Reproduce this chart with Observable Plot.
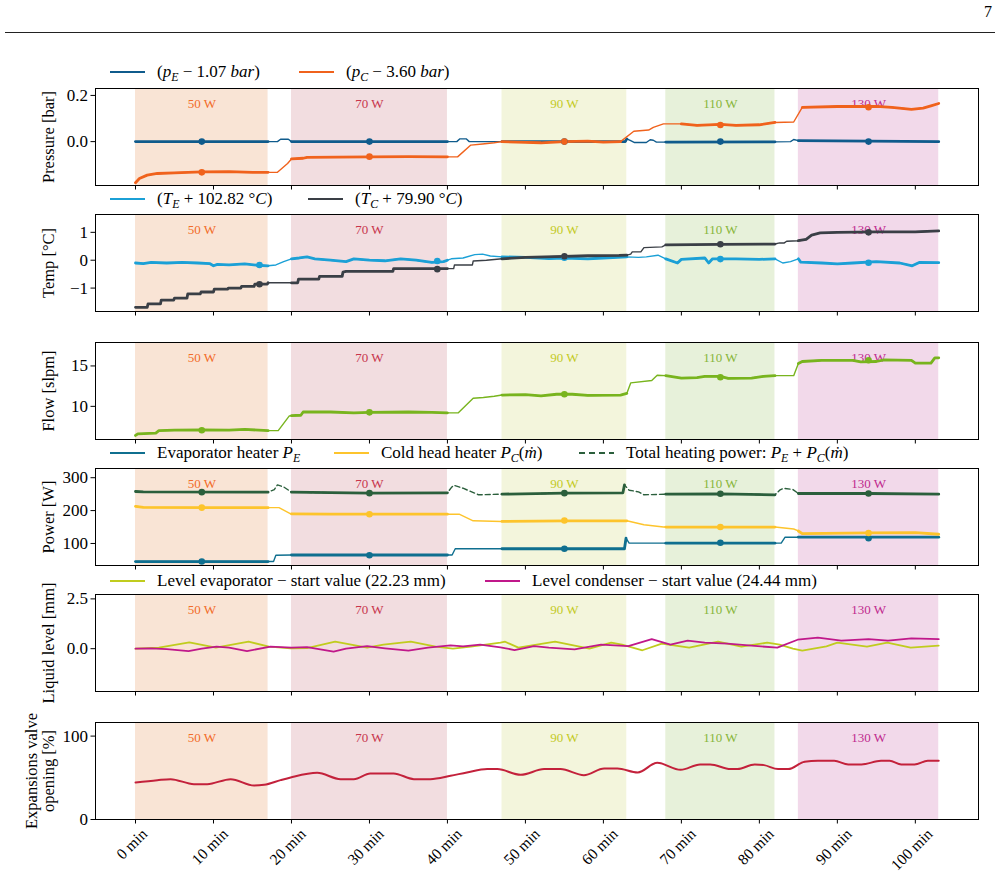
<!DOCTYPE html>
<html><head><meta charset="utf-8">
<script src="https://cdn.jsdelivr.net/npm/d3@7"></script>
<script src="https://cdn.jsdelivr.net/npm/@observablehq/plot@0.6"></script>
<style>
body{margin:0;background:#fff;}
#page{position:relative;width:999px;height:882px;font-family:"Liberation Serif","Times New Roman",serif;color:#000;overflow:hidden;background:#fff;}
.ylab{position:absolute;transform:translate(-50%,-50%) rotate(-90deg);white-space:nowrap;font-size:16.5px;line-height:17px;text-align:center;}
.legtxt{position:absolute;font-size:17px;white-space:nowrap;transform:translateY(-50%);line-height:20px;}
.legsw{position:absolute;}
.sub{font-size:0.7em;vertical-align:-0.3em;line-height:0;font-style:italic;}
i{font-style:italic;}
</style></head><body><div id="page"></div>
<script>
// ---------------- DATA ----------------
const xDomain = [-5.13, 108.1];
const minutes = [0,10,20,30,40,50,60,70,80,90,100];
const xTickLabels = ["0 min","10 min","20 min","30 min","40 min","50 min","60 min","70 min","80 min","90 min","100 min"];

const bandLabels = ["50 W","70 W","90 W","110 W","130 W"];
const bandStart = [0,20,47,68,85];
const bandEnd   = [17,40,63,82,103];

// Pressure [bar] (offset values)
const pE = [[0,0],[17,0],[18.2,0],[18.6,0.01],[19.6,0.01],[20,0],[40,0],[41.2,0],[41.6,0.012],[42.4,0.012],[42.8,0],[47,0],[62.8,0],[63,0.012],[63.5,0.004],[64,-0.004],[65.5,-0.004],[66,0.008],[66.4,0.006],[66.8,-0.002],[68,-0.002],[82,-0.001],[84,0],[84.4,0.009],[85,0.004],[103,0]];
const pC = [[0,-0.178],[0.5,-0.16],[1.5,-0.145],[2.8,-0.138],[5,-0.135],[8.5,-0.131],[12,-0.13],[15,-0.133],[17,-0.133],[18.2,-0.133],[19.5,-0.095],[20,-0.075],[21.5,-0.072],[22,-0.068],[30,-0.066],[35,-0.065],[40,-0.066],[41.3,-0.066],[43,-0.015],[44.5,-0.01],[46,-0.005],[47,0],[50,-0.003],[52,-0.005],[55,0],[58,0.002],[60,-0.002],[62.2,0],[63.9,0.045],[65.8,0.05],[66.4,0.062],[67.7,0.077],[70,0.077],[72,0.07],[75,0.075],[77,0.07],[80,0.073],[82,0.083],[84.4,0.085],[85.5,0.148],[90,0.152],[95,0.153],[97,0.148],[99.5,0.14],[101,0.145],[102,0.155],[103,0.165]];
const pMarkT = [8.5,30,55,75,94];
const pEMean = [0,0,0,0,0];
const pCMean = [-0.133,-0.065,0,0.072,0.149];

// Temperature [°C] (offset values)
const tE = [[0,-0.1],[1,-0.12],[2,-0.08],[4,-0.1],[6,-0.08],[8,-0.1],[9.5,-0.12],[10,-0.2],[10.5,-0.15],[12,-0.17],[14,-0.13],[15.5,-0.18],[17,-0.2],[18,-0.17],[19,-0.05],[20,0.05],[21,0.08],[22,0.12],[23,0.05],[25,0],[27,-0.05],[28,0.05],[30,0],[32,-0.02],[34,0.05],[36,0],[38,-0.08],[39.5,-0.05],[40,0],[40.5,0.05],[42,0.08],[43.5,0.2],[44.5,0.22],[45.5,0.15],[47,0.12],[50,0.1],[53,0.06],[55,0.08],[58,0.05],[60,0.08],[63,0.12],[64.5,0.1],[65.5,0.12],[67,0.18],[68,0.05],[69.5,-0.1],[70,0.03],[73,0.08],[73.5,-0.1],[74,0.05],[77,0.05],[80,0.03],[82,0.05],[83,-0.1],[84,-0.05],[85,0.05],[85.3,-0.07],[88,-0.1],[90,-0.13],[92,-0.1],[95,-0.05],[98,-0.1],[99.6,-0.2],[100.5,-0.08],[103,-0.09]];
const tC = [[0,-1.69],[1.5,-1.69],[1.6,-1.57],[3.2,-1.57],[3.3,-1.43],[4.9,-1.43],[5,-1.36],[6.6,-1.36],[6.7,-1.21],[8.3,-1.21],[8.4,-1.14],[10,-1.14],[10.1,-1.04],[11.8,-1.04],[11.9,-1.0],[13.5,-1.0],[13.6,-0.94],[15.2,-0.94],[15.3,-0.86],[16.9,-0.86],[17,-0.81],[20,-0.81],[20.8,-0.81],[20.9,-0.68],[23.5,-0.68],[23.6,-0.58],[26.5,-0.58],[26.6,-0.43],[27,-0.4],[33,-0.4],[33.1,-0.3],[40,-0.3],[40.8,-0.3],[40.9,-0.17],[43.2,-0.17],[43.3,-0.03],[45,0],[47,0.05],[50,0.1],[55,0.14],[58,0.16],[62,0.17],[63,0.18],[63.5,0.22],[63.7,0.3],[64.8,0.3],[65.2,0.45],[67.5,0.48],[68,0.55],[75,0.57],[82,0.58],[82.6,0.62],[83.2,0.62],[83.5,0.68],[85,0.7],[86,0.75],[86.7,0.9],[87.8,0.98],[90,1.0],[95,1.02],[100,1.02],[103,1.05]];
const tMarkT = [15.9,38.7,55,75,94];
const tEMean = [-0.17,-0.03,0.09,0.04,-0.09];
const tCMean = [-0.86,-0.32,0.14,0.57,1.0];

// Flow [slpm]
const flow = [[0,6.4],[0.3,6.6],[2.6,6.7],[3,7.0],[5,7.05],[8.5,7.1],[12,7.05],[14,7.15],[17,7.0],[18.3,7.0],[19.7,8.8],[20,8.85],[21.2,8.9],[21.5,9.3],[25,9.3],[28,9.2],[30,9.25],[35,9.3],[38,9.25],[40,9.2],[41.4,9.2],[43.3,11.0],[44.6,11.1],[46,11.25],[47,11.4],[50,11.45],[52,11.3],[54,11.5],[56,11.5],[58,11.35],[62.2,11.4],[63,11.6],[63.5,12.9],[66.2,13.2],[66.9,13.85],[68,13.8],[70,13.5],[72,13.55],[73,13.7],[75,13.7],[76,13.45],[79,13.5],[80.5,13.7],[82,13.8],[84.4,13.8],[85,15.3],[85.5,15.55],[88,15.7],[92,15.7],[93,15.5],[95,15.55],[96,15.75],[99.5,15.7],[100,15.35],[102,15.35],[102.5,16.0],[103,16.0]];
const flowMarkT = [8.5,30,55,75,94];
const flowMean = [7.05,9.26,11.5,13.6,15.7];

// Power [W]
const powE = [[0,45],[17,45],[17.7,45],[18,64],[20,65],[40,65],[40.6,65],[41,84],[47,84],[62.7,84],[62.9,116],[63.3,101],[68,101],[82,101],[82.8,101],[83.3,119],[85,119],[103,119]];
const powC = [[0,213],[1,210],[10,209],[17,209],[18.4,209],[19.9,190],[20,190],[25,189],[30,189],[40,189],[41.5,189],[43.3,169],[47,167],[55,169],[63,169],[65.2,157],[67.7,150],[68,150],[75,150],[82,150],[84.4,144],[85,138],[85.5,130],[94,132],[100,133],[103,128]];
const powTot = [[0,258],[1,257],[17,256],[17.8,264],[18.2,278],[19,272],[20,256],[30,253],[40,254],[40.5,270],[40.8,277],[42,268],[44,248],[47,250],[55,253],[62.5,254],[62.7,278],[63.3,262],[64.5,257],[65.2,248],[68,250],[75,251],[82,248],[82.6,262],[83.1,268],[84.3,264],[85,252],[94,252],[103,250]];
const powMarkT = [8.5,30,55,75,94];
const powEMean = [45,64,84,102,116];
const powCMean = [209,189,170,150,132];
const powTotMean = [256,253,253,251,252];

// Liquid level [mm]
const levEvap = [[0,0],[3,0.05],[6.9,0.32],[10.3,0.05],[14.5,0.35],[17.1,0.1],[19.9,0.02],[22,0.03],[25.6,0.35],[29.7,0.05],[31.8,0.2],[35.3,0.35],[38.5,0.1],[40.7,0],[43,0.1],[46.8,0.3],[47.4,0.35],[49.1,0.05],[53.8,0.35],[58.2,0],[61,0.3],[62.4,0.2],[65,-0.08],[67.5,0.25],[71,0.05],[74.7,0.35],[77.7,0.1],[81,0.3],[82.6,0.2],[84.3,0],[85.5,-0.1],[88.6,0.12],[90,0.3],[93.8,0.1],[96.4,0.3],[99.4,0.05],[103,0.15]];
const levCond = [[0,0],[2,0.02],[4,-0.02],[6.8,-0.12],[8.5,0],[10.4,0.1],[12,0.05],[14.3,-0.12],[17.3,0.1],[20,0.05],[22,0.08],[25.4,-0.15],[27,0],[29.7,0.13],[32,0.02],[35,-0.1],[37.5,0.05],[40.4,0.17],[42,0.12],[44.2,0.2],[46.8,0.07],[48.6,-0.07],[51.1,0.13],[53,0.05],[56.3,-0.03],[59.7,0.2],[63.2,0.13],[66.2,0.48],[68.6,0.2],[70.8,0.4],[73,0.3],[75.9,0.25],[79,0.15],[82.3,0.05],[84.9,0.45],[87.5,0.55],[90.5,0.4],[94,0.48],[96.5,0.4],[99.5,0.52],[103,0.48]];

// Expansion valve opening [%]
const valve = [[0,44.4],[2.8,47.2],[4.5,48.4],[7.5,42.4],[9.2,42.4],[12.2,48.4],[15.2,40.8],[16.5,41.6],[18.6,47.2],[19.9,50.4],[23.3,56],[26.3,48.4],[28,48.4],[30.1,55.2],[33.1,55.2],[35.7,48.4],[37.8,48.4],[40.4,52.4],[42.5,56.4],[45.1,60.4],[46.4,60.4],[49.4,53.6],[52.4,60.4],[54.5,60.4],[57.5,53.2],[60.1,61.2],[61.8,61.2],[64.4,56.4],[66.9,68],[69.9,59.6],[72.4,66],[73.7,66],[76.3,60.4],[77.2,60.4],[79.4,66],[80.6,65.2],[82.4,60.4],[83.7,60.4],[85.8,69.2],[87.5,70.4],[89.6,70.4],[91.4,66],[93.1,66],[95.6,70.4],[96.7,70.4],[98.2,66],[99.9,66],[101.6,70.4],[103,70.4]];

// ---------------- STYLE ----------------
const FONT = '"Liberation Serif","Times New Roman",serif';
const bandFill = ["#f9e4d5","#f2dde0","#f3f5dc","#e7f1da","#f2d9ea"];
const bandInk  = ["#f26b28","#c8344c","#c3ca1f","#88b63a","#c02a8e"];
const C = {pE:"#0f5b8c", pC:"#f0621c", tE:"#1ba0d6", tC:"#3a3f46", flow:"#78b41e",
           powE:"#0f6f8f", powC:"#fdc42c", powTot:"#2b5f3c", levE:"#c0cc1e", levC:"#c0188a", valve:"#c3213b"};

const page = document.getElementById("page");
const xy = {x: d => d[0], y: d => d[1]};

function inBands(data){
  const out = [];
  bandStart.forEach((s,i) => { for (const d of data) if (d[0] >= s && d[0] <= bandEnd[i]) out.push([d[0], d[1], i]); });
  return out;
}
const measureCtx = document.createElement("canvas").getContext("2d");

function makePanel(cfg){
  const H = 97, mt = 6, mb = cfg.last ? 70 : 12;
  const idx = bandStart.map((_, i) => i);
  const marks = [
    Plot.rect(idx, {x1: i => bandStart[i], x2: i => bandEnd[i], fill: i => bandFill[i]}),
    Plot.text(idx, {x: i => (bandStart[i] + bandEnd[i]) / 2, text: i => bandLabels[i], frameAnchor: "top", dy: 10, fill: i => bandInk[i], fontSize: 13})
  ];
  for (const s of cfg.series){
    marks.push(Plot.line(s.data, {...xy, stroke: s.color, strokeWidth: s.w ?? 1.4, strokeDasharray: s.dash, curve: s.curve ?? "linear"}));
    if (s.thick) marks.push(Plot.line(inBands(s.data), {...xy, z: d => d[2], stroke: s.color, strokeWidth: 2.8}));
  }
  for (const m of (cfg.markers || [])){
    marks.push(Plot.dot(m.t.map((t, i) => [t, m.v[i]]), {...xy, r: 3.3, fill: m.color, stroke: "none"}));
  }
  marks.push(Plot.axisY({ticks: cfg.yTicks, tickFormat: cfg.yFmt, tickSize: 4.5, tickPadding: 3, fontSize: 17, label: null}));
  marks.push(Plot.axisX({ticks: minutes, tickSize: 4.5, tickFormat: () => "", label: null}));
  if (cfg.last){
    measureCtx.font = "15.5px " + FONT;
    marks.push(Plot.text(minutes, {x: d => d, text: (d, i) => xTickLabels[i], frameAnchor: "bottom",
      dy: 0, rotate: -45, fontSize: 15.5}));
  }
  marks.push(Plot.frame({stroke: "#000", strokeWidth: 1}));
  const svg = Plot.plot({
    width: 999, height: H + mt + mb, marginTop: mt, marginBottom: mb, marginLeft: 95, marginRight: 21,
    x: {domain: xDomain}, y: {domain: cfg.yDomain}, color: {type: "identity"},
    style: {fontFamily: FONT, fontSize: "17px", color: "#000", background: "transparent", overflow: "visible"},
    marks
  });
  svg.style.position = "absolute"; svg.style.left = "0px"; svg.style.top = (cfg.top - mt) + "px";
  page.appendChild(svg);
  if (cfg.last){
    // shift rotated tick labels so the top of each rotated label box sits below the ticks
    const texts = [...svg.querySelectorAll("text")].filter(t => /min/.test(t.textContent));
    texts.forEach(t => {
      const w = measureCtx.measureText(t.textContent).width;
      const off = 11 + (w + 13) * 0.3535;
      const tr = t.getAttribute("transform") || "";
      t.setAttribute("transform", tr.replace(/translate\(([^,]+),([^)]+)\)/, (m, a, b) => `translate(${a},${+b + off})`));
    });
  }
}

const tops = [88, 214, 342, 468, 594, 722];
makePanel({top: tops[0], yDomain: [-0.19, 0.23], yTicks: [0, 0.2], yFmt: d3.format(".1f"),
  series: [{data: pE, color: C.pE, thick: true}, {data: pC, color: C.pC, thick: true}],
  markers: [{t: pMarkT, v: pEMean, color: C.pE}, {t: pMarkT, v: pCMean, color: C.pC}]});
makePanel({top: tops[1], yDomain: [-1.84, 1.64], yTicks: [-1, 0, 1], yFmt: d3.format("d"),
  series: [{data: tE, color: C.tE, thick: true}, {data: tC, color: C.tC, thick: true}],
  markers: [{t: tMarkT, v: tEMean, color: C.tE}, {t: tMarkT, v: tCMean, color: C.tC}]});
makePanel({top: tops[2], yDomain: [5.9, 17.9], yTicks: [10, 15], yFmt: d3.format("d"),
  series: [{data: flow, color: C.flow, thick: true}],
  markers: [{t: flowMarkT, v: flowMean, color: C.flow}]});
makePanel({top: tops[3], yDomain: [33, 328], yTicks: [100, 200, 300], yFmt: d3.format("d"),
  series: [{data: powE, color: C.powE, thick: true}, {data: powC, color: C.powC, thick: true},
           {data: powTot, color: C.powTot, thick: true, dash: "5,3"}],
  markers: [{t: powMarkT, v: powEMean, color: C.powE}, {t: powMarkT, v: powCMean, color: C.powC}, {t: powMarkT, v: powTotMean, color: C.powTot}]});
makePanel({top: tops[4], yDomain: [-2.15, 2.72], yTicks: [0, 2.5], yFmt: d3.format(".1f"),
  series: [{data: levEvap, color: C.levE, w: 1.8}, {data: levCond, color: C.levC, w: 1.8}]});
makePanel({top: tops[5], yDomain: [0, 116.3], yTicks: [0, 100], yFmt: d3.format("d"),
  series: [{data: valve, color: C.valve, w: 2, curve: "monotone-x"}], last: true});

// ---------------- TEXT: header, y labels, legends ----------------
function add(html){ page.insertAdjacentHTML("beforeend", html); }
add(`<div style="position:absolute;right:7px;top:3px;font-size:16px;">7</div>`);
add(`<div style="position:absolute;left:5px;top:32px;width:990px;height:1px;background:#222;"></div>`);

const yLabels = ["Pressure [bar]", "Temp [°C]", "Flow [slpm]", "Power [W]", "Liquid level [mm]", "Expansions valve<br>opening [%]"];
yLabels.forEach((t, i) => {
  const cx = i === 5 ? 40 : 48;
  add(`<div class="ylab" style="left:${cx}px;top:${tops[i] + 48.5}px;">${t}</div>`);
});

function legendItem(x, y, color, dash, html){
  add(`<svg class="legsw" style="left:${x}px;top:${y - 5}px" width="36" height="10"><line x1="0" y1="5" x2="35" y2="5" stroke="${color}" stroke-width="2"${dash ? ` stroke-dasharray="${dash}"` : ""}/></svg>`);
  add(`<div class="legtxt" style="left:${x + 47}px;top:${y}px;">${html}</div>`);
}
const sub = s => `<span class="sub">${s}</span>`;
legendItem(110, 72, C.pE, null, `(<i>p</i>${sub("E")} − 1.07 <i>bar</i>)`);
legendItem(299, 72, C.pC, null, `(<i>p</i>${sub("C")} − 3.60 <i>bar</i>)`);
legendItem(110, 199, C.tE, null, `(<i>T</i>${sub("E")} + 102.82 °<i>C</i>)`);
legendItem(308, 199, C.tC, null, `(<i>T</i>${sub("C")} + 79.90 °<i>C</i>)`);
legendItem(110, 453, C.powE, null, `Evaporator heater <i>P</i>${sub("E")}`);
legendItem(334, 453, C.powC, null, `Cold head heater <i>P</i>${sub("C")}(<i>ṁ</i>)`);
legendItem(579, 453, C.powTot, "6,4", `Total heating power: <i>P</i>${sub("E")} + <i>P</i>${sub("C")}(<i>ṁ</i>)`);
legendItem(110, 581, C.levE, null, `Level evaporator − start value (22.23 mm)`);
legendItem(485, 581, C.levC, null, `Level condenser − start value (24.44 mm)`);
</script></body></html>
